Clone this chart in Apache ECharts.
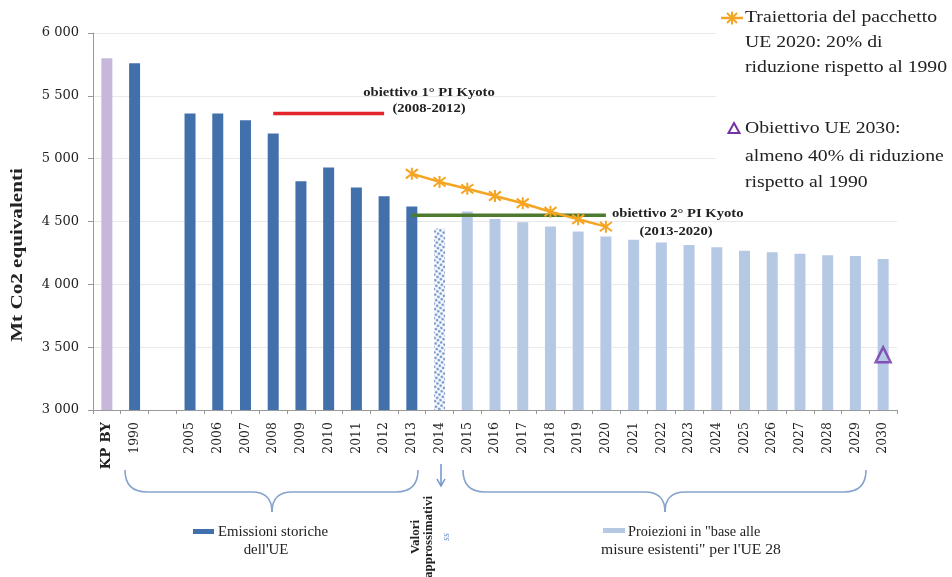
<!DOCTYPE html>
<html><head><meta charset="utf-8">
<script src="https://cdn.jsdelivr.net/npm/echarts@6/dist/echarts.min.js"></script>
<style>html,body{margin:0;padding:0;background:#fff}#c{width:952px;height:577px}</style>
</head><body><div id="c"></div>
<script>
// ---- data ----
const categories = ['KP BY','1990','','2005','2006','2007','2008','2009','2010','2011','2012','2013','2014','2015','2016','2017','2018','2019','2020','2021','2022','2023','2024','2025','2026','2027','2028','2029','2030'];
const yTicks = [3000, 3500, 4000, 4500, 5000, 5500, 6000];
const kpbyYears = ['KP BY'];
const kpbyValues = [5800];
const historicYears = ['1990','2005','2006','2007','2008','2009','2010','2011','2012','2013'];
const historicValues = [5760, 5360, 5360, 5305, 5200, 4820, 4930, 4770, 4700, 4620];
const approxYears = ['2014'];
const approxValues = [4445];
const projYears = ['2015','2016','2017','2018','2019','2020','2021','2022','2023','2024','2025','2026','2027','2028','2029','2030'];
const projValues = [4580, 4520, 4495, 4460, 4420, 4380, 4355, 4332, 4313, 4295, 4268, 4255, 4244, 4231, 4225, 4202];
const trajYears = ['2013','2014','2015','2016','2017','2018','2019','2020'];
const trajValues = [4880, 4815, 4760, 4703, 4645, 4578, 4518, 4459];
const kyoto1Years = ['2008','2009','2010','2011','2012'];
const kyoto1Values = [5360, 5360, 5360, 5360, 5360];
const kyoto2Years = ['2013','2014','2015','2016','2017','2018','2019','2020'];
const kyoto2Values = [4550, 4550, 4550, 4550, 4550, 4550, 4550, 4550];
const target2030Years = ['2030'];
const target2030Values = [3440];

function align(years, values){
  return categories.map(c => { const i = years.indexOf(c); return i >= 0 ? values[i] : null; });
}
const SERIF = "'Liberation Serif', 'DejaVu Serif', serif";
const WIDE = "'DejaVu Serif', serif";
const starPath = 'path://M0,0L10,10M10,0L0,10M5,-1.5L5,11.5';
const txt = '#222';
const braceStyle = { stroke: '#86a3cb', lineWidth: 1.6, fill: null };

function brace(x1, x2, xm, y0, y1, y2){
  const r = 22;
  return [
    { type: 'bezierCurve', shape: { x1: x1, y1: y0, x2: x1 + r, y2: y1, cpx1: x1, cpy1: y1 }, style: braceStyle },
    { type: 'line', shape: { x1: x1 + r, y1: y1, x2: xm - 20, y2: y1 }, style: braceStyle },
    { type: 'bezierCurve', shape: { x1: xm - 20, y1: y1, x2: xm, y2: y2, cpx1: xm, cpy1: y1 }, style: braceStyle },
    { type: 'bezierCurve', shape: { x1: xm, y1: y2, x2: xm + 20, y2: y1, cpx1: xm, cpy1: y1 }, style: braceStyle },
    { type: 'line', shape: { x1: xm + 20, y1: y1, x2: x2 - r, y2: y1 }, style: braceStyle },
    { type: 'bezierCurve', shape: { x1: x2 - r, y1: y1, x2: x2, y2: y0, cpx1: x2, cpy1: y1 }, style: braceStyle }
  ];
}
const orangeStroke = { stroke: '#f5a524', lineWidth: 2 };
function T(x, y, text, font, opts){
  opts = opts || {};
  return { type: 'text', x: x, y: y, z: 20, rotation: opts.rot || 0, scaleX: opts.sx || 1,
    style: { text: text, font: font, fill: opts.fill || txt, align: opts.align || 'left', verticalAlign: 'middle' } };
}

const chart = echarts.init(document.getElementById('c'));
const barBase = { type: 'bar', barWidth: 11, barGap: '-100%' };
chart.setOption({
  animation: false,
  grid: { left: 93, right: 55, top: 33, bottom: 167 },
  xAxis: {
    type: 'category', data: categories,
    axisLine: { lineStyle: { color: '#999', width: 1 } },
    axisTick: { show: true, length: 4, lineStyle: { color: '#999' } },
    axisLabel: { rotate: 90, margin: 12, interval: 0, color: txt, fontFamily: WIDE, fontSize: 12.5,
      formatter: v => v === 'KP BY' ? '{b|KP BY}' : v,
      rich: { b: { fontWeight: 'bold', fontFamily: WIDE, fontSize: 13.5, color: txt } } }
  },
  yAxis: {
    type: 'value', min: 3000, max: 6000, interval: 500,
    axisLine: { show: true, lineStyle: { color: '#999' } },
    axisTick: { show: true, length: 5, lineStyle: { color: '#999' } },
    splitLine: { lineStyle: { color: '#e9e9e9' } },
    axisLabel: { margin: 14, color: txt, fontFamily: WIDE, fontSize: 13,
      formatter: v => yTicks.includes(v) ? String(v).replace(/(\d)(\d{3})$/, '$1 $2') : '' }
  },
  series: [
    Object.assign({}, barBase, { name: 'KP BY', data: align(kpbyYears, kpbyValues), itemStyle: { color: '#c7b7da' } }),
    Object.assign({}, barBase, { name: 'Emissioni storiche', data: align(historicYears, historicValues), itemStyle: { color: '#4270ab' } }),
    Object.assign({}, barBase, { name: 'Valori approssimativi', data: align(approxYears, approxValues),
      itemStyle: { color: '#ffffff', decal: { symbol: 'circle', symbolSize: 0.85, color: '#5f87c2', dashArrayX: [3, 1], dashArrayY: [3, 1], rotation: 0.6 } } }),
    Object.assign({}, barBase, { name: 'Proiezioni', data: align(projYears, projValues), itemStyle: { color: '#b5c9e5' } }),
    { name: 'Kyoto1', type: 'line', data: align(kyoto1Years, kyoto1Values), symbol: 'none', lineStyle: { color: '#e3252b', width: 3.5 }, z: 5 },
    { name: 'Kyoto2', type: 'line', data: align(kyoto2Years, kyoto2Values), symbol: 'none', lineStyle: { color: '#4d7a2e', width: 3.5 }, z: 5 },
    { name: 'Traiettoria', type: 'line', data: align(trajYears, trajValues), symbol: starPath, symbolSize: 12,
      lineStyle: { color: '#f5a524', width: 2.5 }, itemStyle: { color: '#f5a524', borderColor: '#f5a524', borderWidth: 2 }, z: 6 },
    { name: 'Obiettivo 2030', type: 'scatter', data: align(target2030Years, target2030Values), symbol: 'triangle', symbolSize: 15,
      itemStyle: { color: 'rgba(255,255,255,0)', borderColor: '#7232a6', borderWidth: 2.5 }, z: 7 }
  ],
  graphic: [
    // white backing of the right legend box (hides grid lines there)
    { type: 'rect', z: 10, shape: { x: 716, y: 0, width: 236, height: 200 }, style: { fill: '#ffffff' } },
    // y axis name
    T(18, 255, 'Mt Co2 equivalenti', `bold 16px ${SERIF}`, { rot: Math.PI / 2, sx: 1.32, align: 'center' }),
    // kyoto annotations
    T(429, 93, 'obiettivo 1° PI Kyoto', `bold 12px ${SERIF}`, { sx: 1.22, align: 'center' }),
    T(429, 109, '(2008-2012)', `bold 12px ${SERIF}`, { sx: 1.22, align: 'center' }),
    T(612, 214, 'obiettivo 2° PI Kyoto', `bold 12px ${SERIF}`, { sx: 1.22 }),
    T(676, 232, '(2013-2020)', `bold 12px ${SERIF}`, { sx: 1.22, align: 'center' }),
    // right legend
    { type: 'line', z: 20, shape: { x1: 721, y1: 18, x2: 743, y2: 18 }, style: { stroke: '#f5a524', lineWidth: 2.5 } },
    { type: 'line', z: 20, shape: { x1: 727, y1: 13, x2: 737, y2: 23 }, style: orangeStroke },
    { type: 'line', z: 20, shape: { x1: 737, y1: 13, x2: 727, y2: 23 }, style: orangeStroke },
    { type: 'line', z: 20, shape: { x1: 732, y1: 11.5, x2: 732, y2: 24.5 }, style: orangeStroke },
    T(745, 18, 'Traiettoria del pacchetto', `17px ${SERIF}`, { sx: 1.16 }),
    T(745, 43, 'UE 2020: 20% di', `17px ${SERIF}`, { sx: 1.16 }),
    T(745, 68, 'riduzione rispetto al 1990', `17px ${SERIF}`, { sx: 1.16 }),
    { type: 'polygon', z: 20, shape: { points: [[734, 123], [739.5, 133], [728.5, 133]] }, style: { stroke: '#7232a6', lineWidth: 2, fill: null } },
    T(745, 129, 'Obiettivo UE 2030:', `17px ${SERIF}`, { sx: 1.16 }),
    T(745, 157, 'almeno 40% di riduzione', `17px ${SERIF}`, { sx: 1.16 }),
    T(745, 183, 'rispetto al 1990', `17px ${SERIF}`, { sx: 1.16 }),
    // braces
    ...brace(125, 418, 272, 470, 492, 512),
    ...brace(463, 866, 665, 470, 492, 512),
    // arrow for 2014
    { type: 'line', shape: { x1: 441, y1: 464, x2: 441, y2: 485 }, style: { stroke: '#6f93c8', lineWidth: 1.5 } },
    { type: 'polyline', shape: { points: [[437, 479], [441, 486], [445, 479]] }, style: { stroke: '#6f93c8', lineWidth: 1.5, fill: null } },
    T(416, 537, 'Valori', `bold 13px ${SERIF}`, { rot: Math.PI / 2, align: 'center' }),
    T(429, 537, 'approssimativi', `bold 13px ${SERIF}`, { rot: Math.PI / 2, align: 'center' }),
    T(446, 537, 'ss', `italic 10px ${SERIF}`, { rot: Math.PI / 2, align: 'center', fill: '#6f93c8' }),
    // bottom legends
    { type: 'rect', shape: { x: 193, y: 529, width: 21, height: 5 }, style: { fill: '#4270ab' } },
    T(218, 532, 'Emissioni storiche', `14px ${SERIF}`, { sx: 1.06 }),
    T(266, 550, "dell'UE", `14px ${SERIF}`, { sx: 1.06, align: 'center' }),
    { type: 'rect', shape: { x: 603, y: 528, width: 22, height: 5 }, style: { fill: '#b5c9e5' } },
    T(628, 532, 'Proiezioni in "base alle', `14px ${SERIF}`, { sx: 1.02 }),
    T(691, 550, "misure esistenti\" per l'UE 28", `14px ${SERIF}`, { sx: 1.12, align: 'center' })
  ]
});
</script>
</body></html>
